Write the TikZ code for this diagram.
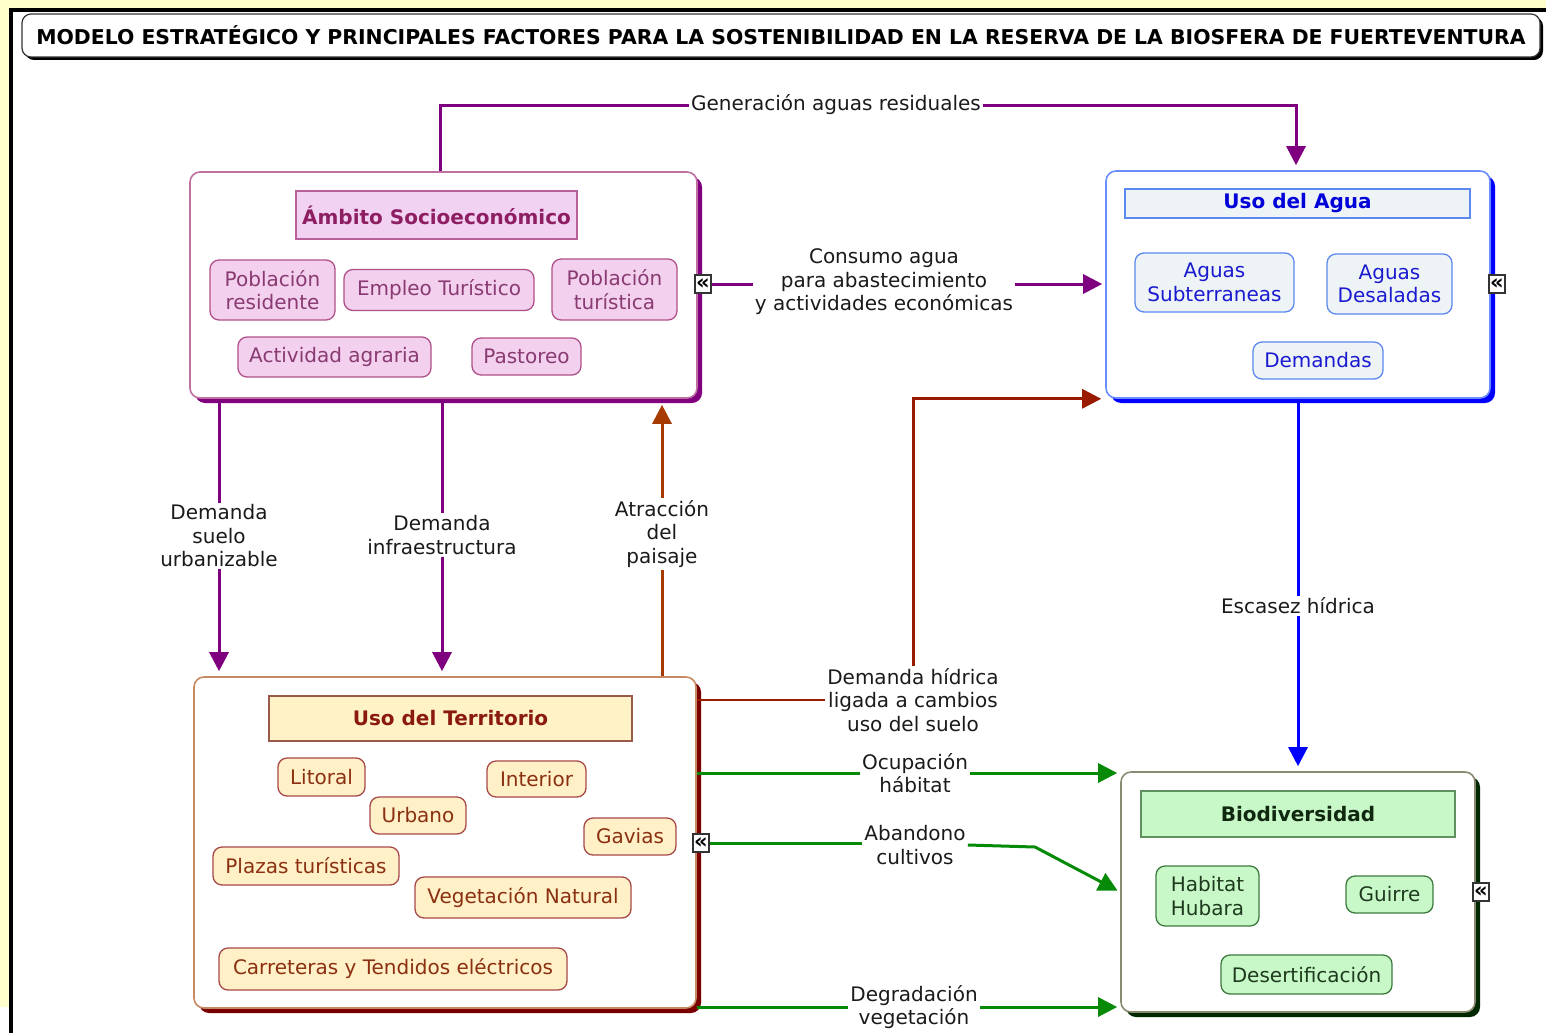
\documentclass[tikz,border=0pt]{standalone}
\usepackage{fontspec}
\setmainfont{DejaVu Sans}
\usetikzlibrary{arrows.meta,shadows,calc}
\definecolor{bgyel}{HTML}{FFFFCC}
\definecolor{lbltext}{HTML}{1A1A1A}
\definecolor{pline}{HTML}{7F007F}
\definecolor{ambB}{HTML}{C070A0}
\definecolor{ambS}{HTML}{800080}
\definecolor{ambHF}{HTML}{F2D2F2}
\definecolor{ambHB}{HTML}{B8609A}
\definecolor{ambHT}{HTML}{8E1E62}
\definecolor{ambF}{HTML}{F2D0EE}
\definecolor{ambSB}{HTML}{B0508A}
\definecolor{ambT}{HTML}{8A3A72}
\definecolor{aguB}{HTML}{6A8CFF}
\definecolor{aguS}{HTML}{0000FF}
\definecolor{aguF}{HTML}{EEF3F6}
\definecolor{aguSB}{HTML}{5C88F0}
\definecolor{aguHT}{HTML}{0000D8}
\definecolor{aguT}{HTML}{1A1AD0}
\definecolor{terB}{HTML}{C88A60}
\definecolor{terS}{HTML}{7A0000}
\definecolor{terHF}{HTML}{FFF2C6}
\definecolor{terHB}{HTML}{9A5A4A}
\definecolor{terHT}{HTML}{8A1A10}
\definecolor{terF}{HTML}{FFF0C8}
\definecolor{terSB}{HTML}{A84848}
\definecolor{terT}{HTML}{8A3010}
\definecolor{bioB}{HTML}{8A8A70}
\definecolor{bioS}{HTML}{002800}
\definecolor{bioHF}{HTML}{C8F8C8}
\definecolor{bioHB}{HTML}{609060}
\definecolor{bioHT}{HTML}{102810}
\definecolor{bioF}{HTML}{C8F8C8}
\definecolor{bioSB}{HTML}{3E7A3E}
\definecolor{bioT}{HTML}{1E3A1E}
\definecolor{gline}{HTML}{078A07}
\definecolor{bline}{HTML}{0000FF}
\definecolor{oline}{HTML}{A63A00}
\definecolor{rline}{HTML}{9A1A00}
\newcommand\fsz{\fontsize{20}{23.5}\selectfont}
\tikzset{
  cont/.style 2 args={draw=#1, line width=1.6pt, fill=white, rounded corners=10pt, inner sep=0pt,
    general shadow={fill=#2, shadow xshift=5pt, shadow yshift=-5pt}},
  hdr/.style n args={3}{draw=#1, fill=#2, text=#3, line width=1.3pt, font=\fsz\bfseries, inner sep=0pt},
  sub/.style n args={3}{draw=#1, fill=#2, text=#3, line width=1.3pt, rounded corners=9pt, font=\fsz, align=center, inner sep=0pt},
  icon/.style={draw=black!80, fill=white, line width=1.2pt, minimum width=16pt, minimum height=18pt, inner sep=0pt, font=\fontsize{21}{21}\selectfont\bfseries},
  lbl/.style={font=\fsz, text=lbltext, align=center, inner sep=2pt},
  conn/.style={line width=3pt},
  arr/.style={-{Triangle[length=19pt,width=19pt]}},
}
\begin{document}
\begin{tikzpicture}[x=1pt,y=-1pt]
\useasboundingbox (0,0) rectangle (1546,1033);
% frame
\fill[bgyel] (0,0) rectangle (1546,8);
\fill[bgyel] (0,0) rectangle (9,1007);
\draw[line width=4pt] (11,1033) -- (11,10) -- (1546,10);
% title
\node[draw=black!80, line width=1.2pt, fill=white, rounded corners=9pt, minimum width=1518pt, minimum height=43pt,
  general shadow={fill=black, shadow xshift=3pt, shadow yshift=-3pt}, font=\fontsize{20.4}{24}\selectfont\bfseries, text=black]
  (title) at (781,35.5) {MODELO ESTRATÉGICO Y PRINCIPALES FACTORES PARA LA SOSTENIBILIDAD EN LA RESERVA DE LA BIOSFERA DE FUERTEVENTURA};

% containers
\node[cont={ambB}{ambS}, minimum width=507pt, minimum height=226pt] (amb) at (443.5,285) {};
\node[cont={aguB}{aguS}, minimum width=384pt, minimum height=227pt] (agua) at (1298,284.5) {};
\node[cont={terB}{terS}, minimum width=502pt, minimum height=331pt] (terr) at (445,842.5) {};
\node[cont={bioB}{bioS}, minimum width=354pt, minimum height=240pt] (bio) at (1298,892) {};

% icons
\node[icon] (icA) at (703,284) {«};
\node[icon] (icB) at (1497,284) {«};
\node[icon] (icC) at (701,843) {«};
\node[icon] (icD) at (1481,892) {«};

% Ambito
\node[hdr={ambHB}{ambHF}{ambHT}, minimum width=281pt, minimum height=48pt] (ambH) at (436.5,215) {Ámbito Socioeconómico};
\node[sub={ambSB}{ambF}{ambT}, minimum width=125pt, minimum height=60pt] (pres) at (272.5,290) {Población\\residente};
\node[sub={ambSB}{ambF}{ambT}, minimum width=190pt, minimum height=41pt] (empl) at (439,290) {Empleo Turístico};
\node[sub={ambSB}{ambF}{ambT}, minimum width=125pt, minimum height=61pt] (ptur) at (614.5,289.5) {Población\\turística};
\node[sub={ambSB}{ambF}{ambT}, minimum width=193pt, minimum height=40pt] (agra) at (334.5,357) {Actividad agraria};
\node[sub={ambSB}{ambF}{ambT}, minimum width=109pt, minimum height=37pt] (past) at (526.5,356.5) {Pastoreo};

% Agua
\node[hdr={aguSB}{aguF}{aguHT}, minimum width=345pt, minimum height=29pt] (aguH) at (1297.5,203.5) {Uso del Agua};
\node[sub={aguSB}{aguF}{aguT}, minimum width=159pt, minimum height=59pt] (asub) at (1214.5,282.5) {Aguas\\Subterraneas};
\node[sub={aguSB}{aguF}{aguT}, minimum width=125pt, minimum height=60pt] (ades) at (1389.5,284) {Aguas\\Desaladas};
\node[sub={aguSB}{aguF}{aguT}, minimum width=130pt, minimum height=37pt] (adem) at (1318,360.5) {Demandas};

% Territorio
\node[hdr={terHB}{terHF}{terHT}, minimum width=363pt, minimum height=45pt] (terH) at (450.5,718.5) {Uso del Territorio};
\node[sub={terSB}{terF}{terT}, minimum width=87pt, minimum height=38pt] (lito) at (321.5,777) {Litoral};
\node[sub={terSB}{terF}{terT}, minimum width=99pt, minimum height=36pt] (inte) at (536.5,779) {Interior};
\node[sub={terSB}{terF}{terT}, minimum width=96pt, minimum height=37pt] (urba) at (418,815.5) {Urbano};
\node[sub={terSB}{terF}{terT}, minimum width=92pt, minimum height=37pt] (gavi) at (630,836.5) {Gavias};
\node[sub={terSB}{terF}{terT}, minimum width=186pt, minimum height=38pt] (plaz) at (306,866) {Plazas turísticas};
\node[sub={terSB}{terF}{terT}, minimum width=216pt, minimum height=41pt] (vege) at (523,897.5) {Vegetación Natural};
\node[sub={terSB}{terF}{terT}, minimum width=348pt, minimum height=42pt] (carr) at (393,969) {Carreteras y Tendidos eléctricos};

% Biodiversidad
\node[hdr={bioHB}{bioHF}{bioHT}, minimum width=314pt, minimum height=46pt] (bioH) at (1298,814) {Biodiversidad};
\node[sub={bioSB}{bioF}{bioT}, minimum width=103pt, minimum height=60pt] (hubr) at (1207.5,896) {Habitat\\Hubara};
\node[sub={bioSB}{bioF}{bioT}, minimum width=87pt, minimum height=37pt] (guir) at (1389.5,894.5) {Guirre};
\node[sub={bioSB}{bioF}{bioT}, minimum width=171pt, minimum height=39pt] (dese) at (1306.5,974.5) {Desertificación};

% labels
\node[lbl] (gen) at (836,105) {Generación aguas residuales};
\node[lbl] (con) at (884,282) {Consumo agua\\para abastecimiento\\y actividades económicas};
\node[lbl] (dsu) at (219,536) {Demanda\\suelo\\urbanizable};
\node[lbl] (dinf) at (442,535) {Demanda\\infraestructura};
\node[lbl] (atr) at (662,534) {Atracción\\del\\paisaje};
\node[lbl] (dh) at (913,700) {Demanda hídrica\\ligada a cambios\\uso del suelo};
\node[lbl] (esc) at (1298,606) {Escasez hídrica};
\node[lbl] (ocu) at (915,773) {Ocupación\\hábitat};
\node[lbl] (aba) at (915,845) {Abandono\\cultivos};
\node[lbl] (deg) at (914,1007) {Degradación\\vegetación};

\coordinate (g1) at (440,105);
\coordinate (g2) at (1296,105);
\coordinate (ab1) at (1035,847);

% connectors
\draw[conn, pline] (amb.north -| g1) -- (g1) -- (gen.west);
\draw[conn, pline, arr, shorten >=5pt] (gen.east) -- (g2) -- (agua.north -| g2);
\draw[conn, pline] (icA.east) -- (icA.east -| con.west);
\draw[conn, pline, arr, shorten >=3pt] (con.east |- icA) -- (agua.west |- icA);
\draw[conn, pline] (amb.south -| dsu) -- (dsu.north);
\draw[conn, pline, arr, shorten >=5pt] (dsu.south) -- (terr.north -| dsu);
\draw[conn, pline] (amb.south -| dinf) -- (dinf.north);
\draw[conn, pline, arr, shorten >=5pt] (dinf.south) -- (terr.north -| dinf);
\draw[conn, oline] (terr.north -| atr) -- (atr.south);
\draw[conn, oline, arr, shorten >=6pt] (atr.north) -- (amb.south -| atr);
\draw[line width=2pt, rline] (terr.east |- dh) -- (dh.west);
\draw[conn, rline, arr, shorten >=4pt] (dh.north) -- (dh.north |- agua.south) -- (agua.south west);
\draw[conn, bline] (agua.south) -- (esc.north);
\draw[conn, bline, arr, shorten >=5pt] (esc.south) -- (bio.north);
\draw[conn, gline] (terr.east |- ocu) -- (ocu.west);
\draw[conn, gline, arr, shorten >=3pt] (ocu.east) -- (ocu.east -| bio.west);
\draw[conn, gline] (icC.east) -- (icC.east -| aba.west);
\draw[conn, gline, arr, shorten >=3pt] (aba.east) -- (ab1) -- (bio.west);
\draw[conn, gline] (terr.east |- deg) -- (deg.west);
\draw[conn, gline, arr, shorten >=3pt] (deg.east) -- (deg.east -| bio.west);
\end{tikzpicture}
\end{document}
